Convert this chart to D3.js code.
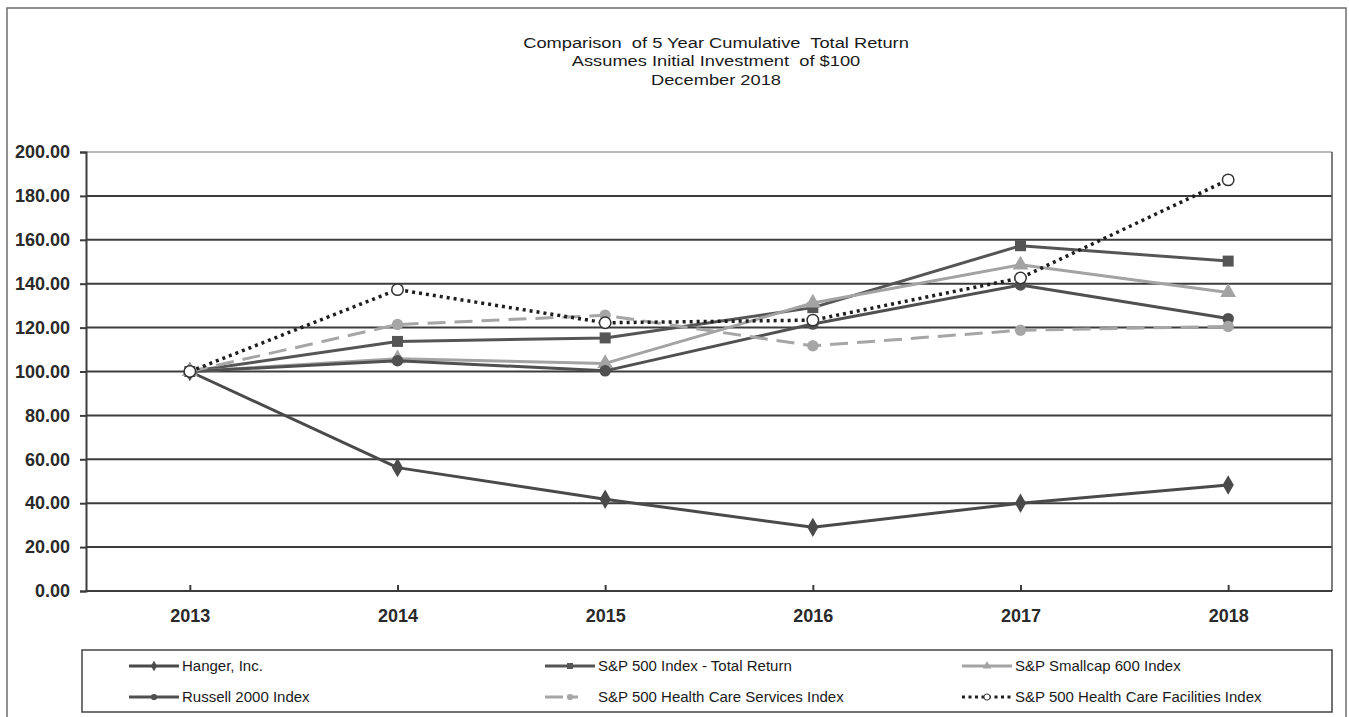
<!DOCTYPE html>
<html>
<head>
<meta charset="utf-8">
<script src="https://cdn.jsdelivr.net/npm/d3@7"></script>
<style>
  body { margin: 0; background: #fff; }
  svg { display: block; font-family: "Liberation Sans", Arial, sans-serif; }
  text { white-space: pre; }
</style>
</head>
<body>
<div id="main_container"></div>
<script>

var years = ["2013", "2014", "2015", "2016", "2017", "2018"];
var yTicks = [0, 20, 40, 60, 80, 100, 120, 140, 160, 180, 200];
var titleLines = [
  "Comparison  of 5 Year Cumulative  Total Return",
  "Assumes Initial Investment  of $100",
  "December 2018"
];

var seriesNames = [
  "Hanger, Inc.",
  "S&P 500 Index - Total Return",
  "S&P Smallcap 600 Index",
  "Russell 2000 Index",
  "S&P 500 Health Care Services Index",
  "S&P 500 Health Care Facilities Index"
];
var hangerValues = [100, 56.2, 41.8, 29.0, 40.0, 48.3];
var sp500Values = [100, 113.7, 115.3, 129.1, 157.3, 150.3];
var smallcapValues = [100, 105.8, 103.7, 131.2, 148.6, 136.0];
var russellValues = [100, 104.9, 100.3, 121.6, 139.4, 124.1];
var hcServicesValues = [100, 121.4, 125.6, 111.7, 118.8, 120.5];
var hcFacilitiesValues = [100, 137.3, 122.2, 123.4, 142.6, 187.3];

var W = 1349, H = 717;
var plot = {left: 86, right: 1332, top: 152, bottom: 591};

// style per series, same order as seriesNames
var styles = [
  {color: "#4a4a4a", width: 3, dash: null, marker: "diamond", fill: "#4a4a4a"},
  {color: "#555555", width: 3, dash: null, marker: "square", fill: "#555555"},
  {color: "#a3a3a3", width: 3, dash: null, marker: "triangle", fill: "#a3a3a3"},
  {color: "#505050", width: 3, dash: null, marker: "circle", fill: "#505050"},
  {color: "#a6a6a6", width: 3, dash: "18,9", marker: "circle", fill: "#a6a6a6"},
  {color: "#1e1e1e", width: 3.5, dash: "3,4", marker: "open", fill: "#ffffff"}
];

function buildSeries() {
  var all = [hangerValues, sp500Values, smallcapValues, russellValues, hcServicesValues, hcFacilitiesValues];
  var out = [];
  for (var i = 0 ; i < all.length ; i++) {
    out.push({name: seriesNames[i], values: all[i], style: styles[i]});
  }
  return out;
}

function markerPath(type, size) {
  if (type == "diamond") return d3.symbol(d3.symbolDiamond, size * size * 0.9)();
  if (type == "square") return d3.symbol(d3.symbolSquare, size * size)();
  if (type == "triangle") return d3.symbol(d3.symbolTriangle, size * size * 0.9)();
  return d3.symbol(d3.symbolCircle, size * size * 0.85)();
}

function drawChart() {
  var series = buildSeries();

  var svg = d3.select("#main_container").append("svg")
    .attr("width", W)
    .attr("height", H);

  // outer frame
  svg.append("rect")
    .attr("x", 7).attr("y", 8)
    .attr("width", 1339).attr("height", H + 10)
    .attr("fill", "none")
    .attr("stroke", "#6e6e6e")
    .attr("stroke-width", 1.5);

  // title - the original is stretched sideways, so scale x a bit
  svg.append("g")
    .attr("transform", "translate(716,0) scale(1.18,1)")
    .selectAll(".title")
    .data(titleLines)
    .enter()
    .append("text")
    .attr("class", "title")
    .attr("x", 0)
    .attr("y", function(d, i) { return 48 + i * 18.5; })
    .attr("text-anchor", "middle")
    .attr("font-size", "15.5px")
    .attr("fill", "#1a1a1a")
    .text(function(d) { return d; });

  var x = d3.scalePoint()
    .domain(years)
    .range([plot.left, plot.right])
    .padding(0.5);

  var y = d3.scaleLinear()
    .domain([0, 200])
    .range([plot.bottom, plot.top]);

  // gridlines
  svg.append("g")
    .selectAll("line")
    .data(yTicks.filter(function(d) { return d > 0; }))
    .enter()
    .append("line")
    .attr("x1", plot.left).attr("x2", plot.right)
    .attr("y1", function(d) { return y(d); })
    .attr("y2", function(d) { return y(d); })
    .attr("stroke", function(d) { return d == 200 ? "#777" : "#3c3c3c"; })
    .attr("stroke-width", function(d) { return d == 200 ? 1.2 : 2; });

  // right border of plot area
  svg.append("line")
    .attr("x1", plot.right).attr("x2", plot.right)
    .attr("y1", plot.top).attr("y2", plot.bottom)
    .attr("stroke", "#555").attr("stroke-width", 1.5);

  // y axis
  var yAxis = svg.append("g")
    .attr("transform", "translate(" + plot.left + ",0)")
    .call(d3.axisLeft(y).tickValues(yTicks).tickSize(6).tickPadding(10).tickFormat(d3.format(".2f")));
  yAxis.select(".domain").attr("stroke", "#3c3c3c").attr("stroke-width", 2);
  yAxis.selectAll(".tick line").attr("stroke", "#3c3c3c").attr("stroke-width", 2);
  yAxis.selectAll(".tick text")
    .attr("font-size", "18px")
    .attr("font-weight", "bold")
    .attr("fill", "#2a2a2a")
    .attr("font-family", "Liberation Sans, Arial, sans-serif");

  // x axis, ticks point up into the plot
  var xAxis = svg.append("g")
    .attr("transform", "translate(0," + plot.bottom + ")")
    .call(d3.axisBottom(x).tickSizeInner(-6).tickSizeOuter(0).tickPadding(18));
  xAxis.select(".domain").attr("stroke", "#3c3c3c").attr("stroke-width", 2)
    .attr("d", "M" + plot.left + ",0H" + plot.right);
  xAxis.selectAll(".tick line").attr("stroke", "#3c3c3c").attr("stroke-width", 2);
  xAxis.selectAll(".tick text")
    .attr("font-size", "18px")
    .attr("font-weight", "bold")
    .attr("fill", "#2a2a2a")
    .attr("font-family", "Liberation Sans, Arial, sans-serif");

  // lines
  var line = d3.line()
    .x(function(d, i) { return x(years[i]); })
    .y(function(d) { return y(d); });

  for (var s = 0 ; s < series.length ; s++) {
    var st = series[s].style;
    svg.append("path")
      .datum(series[s].values)
      .attr("d", line)
      .attr("fill", "none")
      .attr("stroke", st.color)
      .attr("stroke-width", st.width)
      .attr("stroke-dasharray", st.dash)
      .attr("stroke-linejoin", "round");

    svg.append("g")
      .selectAll("path")
      .data(series[s].values)
      .enter()
      .append("path")
      .attr("transform", function(d, i) { return "translate(" + x(years[i]) + "," + y(d) + ")"; })
      .attr("d", markerPath(st.marker, 11))
      .attr("fill", st.fill)
      .attr("stroke", st.marker == "open" ? "#333" : "none")
      .attr("stroke-width", 1.5);
  }

  drawLegend(svg, series);
}

function drawLegend(svg, series) {
  var box = {x: 82, y: 650, w: 1250, h: 62};
  svg.append("rect")
    .attr("x", box.x).attr("y", box.y)
    .attr("width", box.w).attr("height", box.h)
    .attr("fill", "#fff")
    .attr("stroke", "#444")
    .attr("stroke-width", 1.5);

  var colX = [129, 545, 962];
  var rowY = [666, 697];

  var item = svg.selectAll(".legend-item")
    .data(series)
    .enter()
    .append("g")
    .attr("class", "legend-item")
    .attr("transform", function(d, i) { return "translate(" + colX[i % 3] + "," + rowY[Math.floor(i / 3)] + ")"; });

  item.append("line")
    .attr("x1", 0).attr("x2", 50)
    .attr("y1", 0).attr("y2", 0)
    .attr("stroke", function(d) { return d.style.color; })
    .attr("stroke-width", 3)
    .attr("stroke-dasharray", function(d) {
      if (d.style.marker == "open") return "3,3.5";
      if (d.style.dash) return "18,9,6,20";
      return null;
    });

  item.append("path")
    .attr("transform", "translate(25,0)")
    .attr("d", function(d) { return markerPath(d.style.marker, 6); })
    .attr("fill", function(d) { return d.style.fill; })
    .attr("stroke", function(d) { return d.style.marker == "open" ? "#333" : "none"; })
    .attr("stroke-width", 1);

  item.append("text")
    .attr("x", 53)
    .attr("y", 5)
    .attr("font-size", "15px")
    .attr("fill", "#1a1a1a")
    .text(function(d) { return d.name; });
}

drawChart();
</script>
</body>
</html>
